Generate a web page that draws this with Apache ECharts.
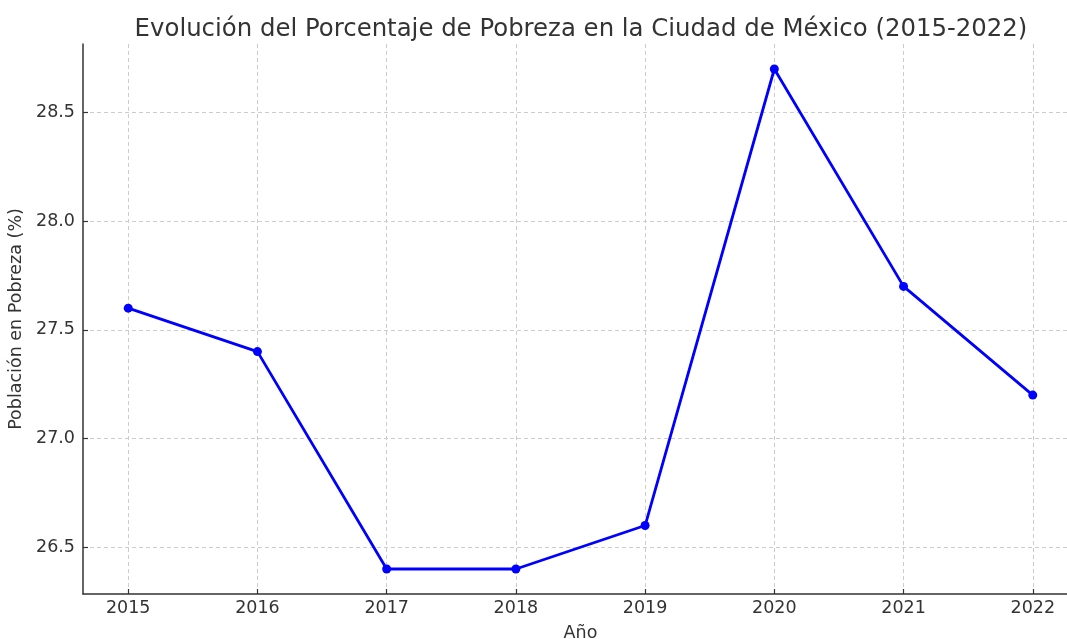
<!DOCTYPE html>
<html>
<head>
<meta charset="utf-8" />
<title>Pobreza CDMX</title>
<script src="https://cdn.jsdelivr.net/npm/echarts@6/dist/echarts.min.js"></script>
<style>
  html, body { margin: 0; padding: 0; background: #fff; }
  #main { width: 1067px; height: 639px; }
</style>
</head>
<body>
<div id="main"></div>
<script type="text/javascript">
var years = [2015, 2016, 2017, 2018, 2019, 2020, 2021, 2022];
var pobreza = [27.6, 27.4, 26.4, 26.4, 26.6, 28.7, 27.7, 27.2];
var yTicks = [26.5, 27.0, 27.5, 28.0, 28.5];

var chart = echarts.init(document.getElementById('main'));
var font = 'DejaVu Sans';
var txt = '#333333';

var option = {
  backgroundColor: '#ffffff',
  animation: false,
  title: {
    text: 'Evolución del Porcentaje de Pobreza en la Ciudad de México (2015-2022)',
    left: 576,
    top: 13,
    textAlign: 'center',
    textStyle: { fontFamily: font, fontSize: 24.4, fontWeight: 'normal', color: txt }
  },
  grid: { left: 83, right: -11, top: 44, bottom: 45, outerBoundsMode: 'none', containLabel: false },
  xAxis: {
    type: 'value',
    min: 2014.65,
    max: 2022.35,
    name: 'Año',
    nameLocation: 'middle',
    nameGap: 30,
    nameTextStyle: { fontFamily: font, fontSize: 17.5, color: txt },
    axisLine: { show: true, lineStyle: { color: '#333', width: 1.5 } },
    axisTick: { show: true, inside: true, length: 5, customValues: years, lineStyle: { color: '#333', width: 1.2 } },
    axisLabel: {
      customValues: years,
      fontFamily: font, fontSize: 17.5, color: txt, margin: 5,
      formatter: function (v) { return String(v); }
    },
    splitLine: { show: true, lineStyle: { color: '#cccccc', type: [4, 3], width: 1 } }
  },
  yAxis: {
    type: 'value',
    min: 26.285,
    max: 28.815,
    name: 'Población en Pobreza (%)',
    nameLocation: 'middle',
    nameGap: 56,
    nameRotate: 90,
    nameTextStyle: { fontFamily: font, fontSize: 17.5, color: txt },
    axisLine: { show: true, lineStyle: { color: '#333', width: 1.5 } },
    axisTick: { show: true, inside: true, length: 5, customValues: yTicks, lineStyle: { color: '#333', width: 1.2 } },
    axisLabel: {
      customValues: yTicks,
      fontFamily: font, fontSize: 17.5, color: txt, margin: 8,
      formatter: function (v) { return v.toFixed(1); }
    },
    splitLine: { show: true, lineStyle: { color: '#cccccc', type: [4, 3], width: 1 } }
  },
  series: [{
    type: 'line',
    data: years.map(function (y, i) { return [y, pobreza[i]]; }),
    symbol: 'circle',
    symbolSize: 9,
    clip: false,
    lineStyle: { color: '#0000ff', width: 2.8 },
    itemStyle: { color: '#0000ff' }
  }]
};

chart.setOption(option);
</script>
</body>
</html>
